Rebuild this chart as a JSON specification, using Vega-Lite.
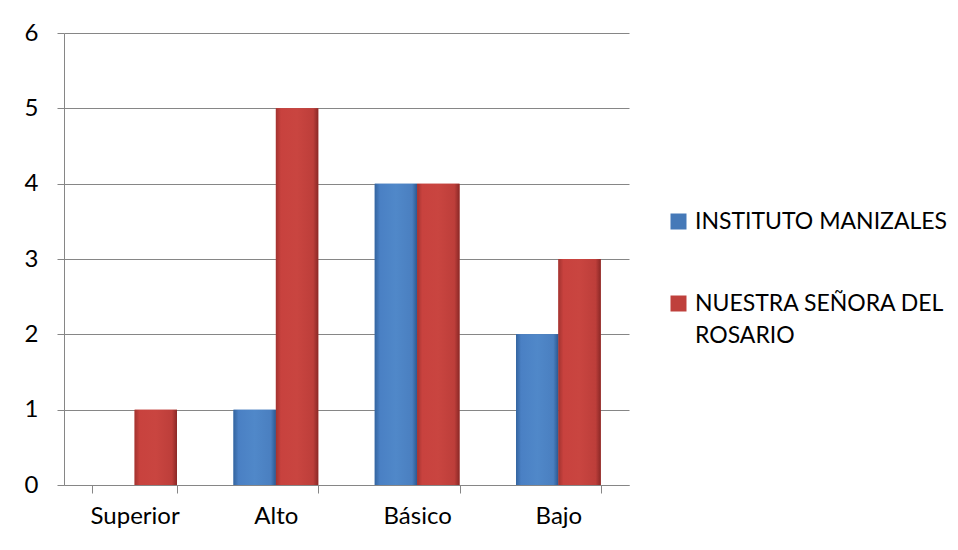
{
  "$schema": "https://vega.github.io/schema/vega-lite/v6.json",
  "autosize": {"type": "none"},
  "width": 565,
  "height": 452,
  "padding": {"left": 64, "top": 33, "right": 329, "bottom": 65},
  "background": "white",
  "config": {
    "view": {"stroke": null},
    "font": "Lato",
    "style": {"guide-label": {"lineHeight": 32}},
    "axis": {"labelFont": "Lato", "labelFontSize": 24, "labelColor": "#000000", "domainColor": "#868686", "tickColor": "#868686", "gridColor": "#868686", "domainWidth": 1, "tickWidth": 1, "gridWidth": 1}
  },
  "data": {
    "values": [
      {"nivel": "Superior", "serie": "INSTITUTO MANIZALES", "valor": 0},
      {"nivel": "Superior", "serie": "NUESTRA SEÑORA DEL ROSARIO", "valor": 1},
      {"nivel": "Alto", "serie": "INSTITUTO MANIZALES", "valor": 1},
      {"nivel": "Alto", "serie": "NUESTRA SEÑORA DEL ROSARIO", "valor": 5},
      {"nivel": "Básico", "serie": "INSTITUTO MANIZALES", "valor": 4},
      {"nivel": "Básico", "serie": "NUESTRA SEÑORA DEL ROSARIO", "valor": 4},
      {"nivel": "Bajo", "serie": "INSTITUTO MANIZALES", "valor": 2},
      {"nivel": "Bajo", "serie": "NUESTRA SEÑORA DEL ROSARIO", "valor": 3}
    ]
  },
  "encoding": {
    "x": {
      "field": "nivel", "type": "nominal", "sort": ["Superior", "Alto", "Básico", "Bajo"],
      "scale": {"paddingInner": 0.4, "paddingOuter": 0.2},
      "axis": {"title": null, "labelAngle": 0, "tickBand": "extent", "tickSize": 8, "labelPadding": 11, "grid": false}
    },
    "xOffset": {"field": "serie", "type": "nominal", "sort": ["INSTITUTO MANIZALES", "NUESTRA SEÑORA DEL ROSARIO"]},
    "y": {
      "field": "valor", "type": "quantitative",
      "scale": {"domain": [0, 6], "nice": false},
      "axis": {"title": null, "values": [0, 1, 2, 3, 4, 5, 6], "tickSize": 7, "labelPadding": 19, "grid": true}
    }
  },
  "layer": [
    {
      "mark": {"type": "bar", "strokeWidth": 0},
      "encoding": {
        "color": {
          "field": "serie", "type": "nominal", "sort": ["INSTITUTO MANIZALES", "NUESTRA SEÑORA DEL ROSARIO"],
          "scale": {"range": ["#4579b8", "#bf403c"]},
          "legend": {
            "title": null, "orient": "none", "legendX": 603, "legendY": 177, "padding": 0,
            "symbolType": "square", "symbolSize": 256, "symbolStrokeWidth": 0,
            "labelFont": "Lato", "labelFontSize": 23, "labelColor": "#000000",
            "labelLimit": 400, "rowPadding": 58, "labelOffset": 5,
            "labelExpr": "datum.label == 'NUESTRA SEÑORA DEL ROSARIO' ? ['NUESTRA SEÑORA DEL', 'ROSARIO'] : datum.label"
          }
        }
      }
    },
    {
      "transform": [{"filter": "datum.serie == 'INSTITUTO MANIZALES'"}],
      "mark": {"type": "bar", "strokeWidth": 0, "fill": {"gradient": "linear", "x1": 0, "y1": 0, "x2": 1, "y2": 0, "stops": [
          {"offset": 0, "color": "#3465a0"}, {"offset": 0.12, "color": "#4a80c4"}, {"offset": 0.5, "color": "#5088c9"}, {"offset": 0.88, "color": "#4a7fc0"}, {"offset": 1, "color": "#2c5890"}]}}
    },
    {
      "transform": [{"filter": "datum.serie == 'NUESTRA SEÑORA DEL ROSARIO'"}],
      "mark": {"type": "bar", "strokeWidth": 0, "fill": {"gradient": "linear", "x1": 0, "y1": 0, "x2": 1, "y2": 0, "stops": [
          {"offset": 0, "color": "#a33330"}, {"offset": 0.12, "color": "#c8423e"}, {"offset": 0.5, "color": "#c94540"}, {"offset": 0.88, "color": "#bd3e3a"}, {"offset": 1, "color": "#8a2826"}]}}
    }
  ]
}
